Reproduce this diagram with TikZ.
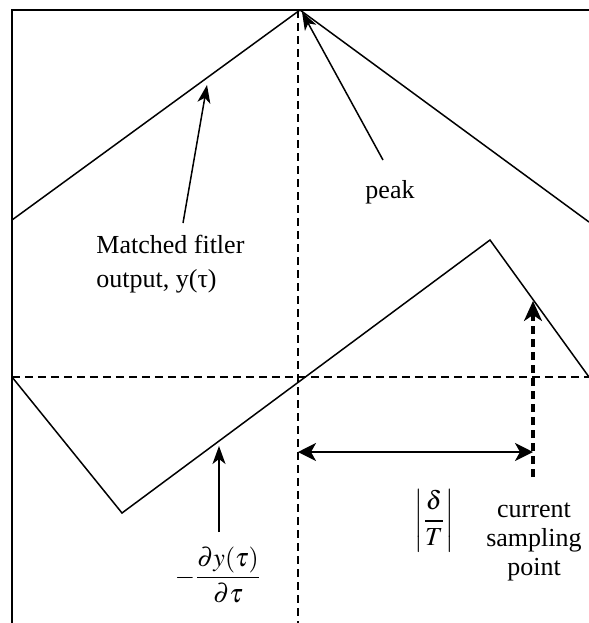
\documentclass[tikz,border=0pt]{standalone}
\usepackage{amsmath}
\usepackage{mathptmx}
\usepackage{fontspec}
\setmainfont{Liberation Serif}
\usetikzlibrary{arrows.meta}

\begin{document}
\begin{tikzpicture}[x=0.5pt,y=-0.5pt]
\tikzset{curve/.style = {line width=0.75pt}}
\tikzset{guide/.style = {dash pattern=on 4pt off 2.5pt, line width=0.75pt}}
\tikzset{edge/.style = {-{Stealth[length=9pt,width=6.5pt,inset=2.5pt]}, line width=0.75pt}}
\tikzset{lbl/.style = {font=\fontsize{13}{17}\selectfont, inner sep=0pt}}
\useasboundingbox (0,0) rectangle (589,623);

% frame
\coordinate (tl) at (12,10);
\coordinate (tr) at (589,10);
\coordinate (bl) at (12,623);
\draw[curve] (bl) -- (tl) -- (tr);

% matched filter output
\coordinate (ya) at (12,220);
\coordinate (yp) at (300,10);
\coordinate (yb) at (589,222);
\draw[curve] (ya) -- (yp) -- (yb);

% derivative
\coordinate (da) at (12,377);
\coordinate (dmin) at (122,513);
\coordinate (dmax) at (490,240);
\coordinate (db) at (589,377);
\draw[curve] (da) -- (dmin) -- (dmax) -- (db);

% guide lines
\coordinate (vtop) at (298,10);
\coordinate (vbot) at (298,623);
\coordinate (hr) at (589,377);
\draw[guide] (vtop) -- (vbot);
\draw[guide] (da) -- (hr);

% labels
\node[lbl, anchor=west, align=left] (matched) at (96,264) {Matched fitler\\output, y(τ)};
\node[lbl] (peak) at (390,192) {peak};
\node[lbl] (ratio) at (434,521) {$\left|\dfrac{\delta}{T}\right|$};
\node[lbl, font=\fontsize{13}{14.5}\selectfont, align=center] (sample) at (534,542) {current\\sampling\\point};
\node[lbl] (deriv) at (218,575) {$-\dfrac{\partial y(\tau)}{\partial\tau}$};

% arrows
\coordinate (mtail) at (183,223);
\coordinate (mtip) at (207,85);
\coordinate (ptail) at (383,160);
\coordinate (ptip) at (302,12);
\coordinate (dtail) at (219,532);
\coordinate (dtip) at (219,446);
\coordinate (stail) at (533,477);
\coordinate (stip) at (533,301);
\coordinate (gl) at (298,452);
\coordinate (gr) at (533,452);
\draw[edge] (mtail) to (mtip);
\draw[edge] (ptail) to (ptip);
\draw[edge] (dtail) to (dtip);
\draw[edge, -{Stealth[length=10pt,width=9pt,inset=3pt]}, line width=1.6pt, dash pattern=on 4pt off 2.5pt] (stail) to (stip);
\draw[edge, {Stealth[length=9pt,width=9pt,inset=2.5pt]}-{Stealth[length=9pt,width=9pt,inset=2.5pt]}, line width=1pt] (gl) to (gr);
\end{tikzpicture}
\end{document}
